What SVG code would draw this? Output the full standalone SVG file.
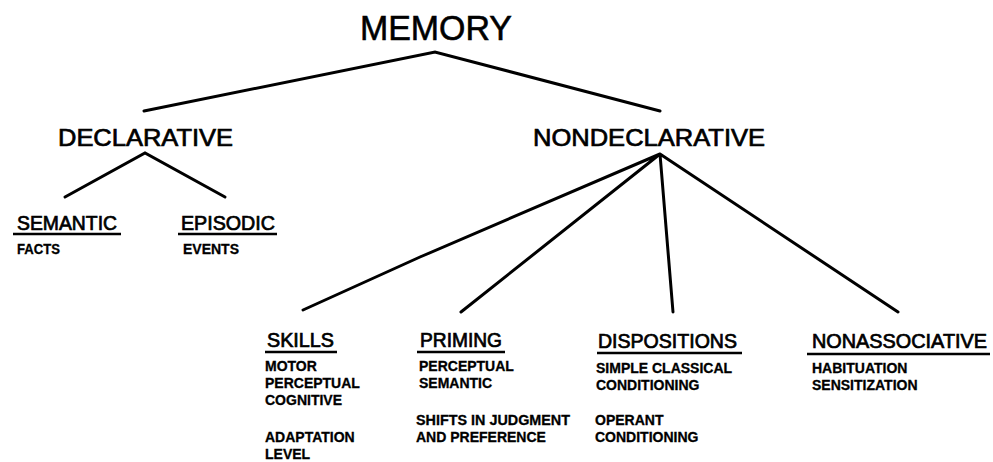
<svg xmlns="http://www.w3.org/2000/svg" width="993" height="462" viewBox="0 0 993 462">
<style>
text{font-family:"Liberation Sans",Arial,sans-serif;fill:#000}
.t0{font-size:35px;stroke:#000;stroke-width:0.6}
.t1{font-size:24.5px;stroke:#000;stroke-width:0.7}
.t2{font-size:19.5px;stroke:#000;stroke-width:0.7}
.s{font-size:14px;font-weight:bold;stroke:#000;stroke-width:0.3}
.c{stroke:#000;stroke-width:3;stroke-linecap:round;fill:none}
.u{stroke:#000;stroke-width:2.5}
</style>
<rect width="993" height="462" fill="#fff"/>
<g id="connectors">
<path class="c" d="M144 111 L435 52 L660 111"/>
<path class="c" d="M65 197 L145 153 L225 197"/>
<path class="c" d="M303 310 L420 257 L660 154 M461 312 L660 154 M673 312 L660 154 M898 312 L660 154"/>
</g>
<g id="memory"><text class="t0" x="360" y="40" textLength="152" lengthAdjust="spacingAndGlyphs">MEMORY</text></g>
<g id="declarative"><text class="t1" x="58" y="146" textLength="175" lengthAdjust="spacingAndGlyphs">DECLARATIVE</text></g>
<g id="nondeclarative"><text class="t1" x="533" y="146" textLength="232" lengthAdjust="spacingAndGlyphs">NONDECLARATIVE</text></g>
<g id="semantic">
<text class="t2" x="17" y="230" textLength="100" lengthAdjust="spacingAndGlyphs">SEMANTIC</text>
<line class="u" x1="13" y1="234" x2="121" y2="234"/>
<text class="s" x="17" y="254" textLength="43" lengthAdjust="spacingAndGlyphs">FACTS</text>
</g>
<g id="episodic">
<text class="t2" x="181" y="230" textLength="94" lengthAdjust="spacingAndGlyphs">EPISODIC</text>
<line class="u" x1="178" y1="234" x2="277" y2="234"/>
<text class="s" x="183" y="254">EVENTS</text>
</g>
<g id="skills">
<text class="t2" x="267" y="347" textLength="67" lengthAdjust="spacingAndGlyphs">SKILLS</text>
<line class="u" x1="265" y1="352" x2="337" y2="352"/>
<text class="s" x="265" y="371">MOTOR</text>
<text class="s" x="265" y="388">PERCEPTUAL</text>
<text class="s" x="265" y="405">COGNITIVE</text>
<text class="s" x="265" y="442">ADAPTATION</text>
<text class="s" x="265" y="459">LEVEL</text>
</g>
<g id="priming">
<text class="t2" x="420" y="347" textLength="82" lengthAdjust="spacingAndGlyphs">PRIMING</text>
<line class="u" x1="417" y1="352" x2="505" y2="352"/>
<text class="s" x="419" y="371">PERCEPTUAL</text>
<text class="s" x="419" y="388">SEMANTIC</text>
<text class="s" x="416" y="425" textLength="154" lengthAdjust="spacingAndGlyphs">SHIFTS IN JUDGMENT</text>
<text class="s" x="416" y="442">AND PREFERENCE</text>
</g>
<g id="dispositions">
<text class="t2" x="598" y="348" textLength="139" lengthAdjust="spacingAndGlyphs">DISPOSITIONS</text>
<line class="u" x1="597" y1="353" x2="742" y2="353"/>
<text class="s" x="596" y="373">SIMPLE CLASSICAL</text>
<text class="s" x="596" y="390">CONDITIONING</text>
<text class="s" x="595" y="425">OPERANT</text>
<text class="s" x="595" y="442">CONDITIONING</text>
</g>
<g id="nonassociative">
<text class="t2" x="812" y="348" textLength="175" lengthAdjust="spacingAndGlyphs">NONASSOCIATIVE</text>
<line class="u" x1="807" y1="354" x2="990" y2="354"/>
<text class="s" x="812" y="373">HABITUATION</text>
<text class="s" x="812" y="390">SENSITIZATION</text>
</g>
</svg>
